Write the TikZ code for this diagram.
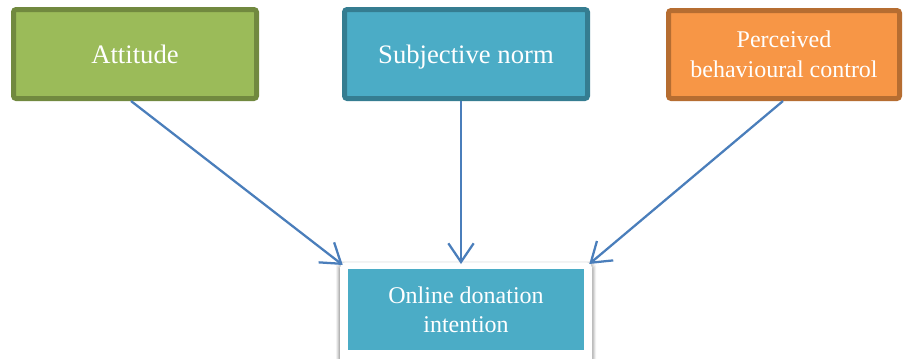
\documentclass[tikz,border=0pt]{standalone}
\usepackage{fontspec}
\setmainfont{Liberation Serif}
\usetikzlibrary{arrows.meta,calc}
\definecolor{attfill}{HTML}{9BBB59}
\definecolor{attline}{HTML}{71893F}
\definecolor{subfill}{HTML}{4BACC6}
\definecolor{subline}{HTML}{357D91}
\definecolor{pbcfill}{HTML}{F79646}
\definecolor{pbcline}{HTML}{B66D31}
\definecolor{arrowblue}{HTML}{4A7EBB}
\tikzset{
  topbox/.style={draw, line width=3.75pt, rounded corners=2pt, text=white, align=center, inner sep=0pt},
  link/.style={draw=arrowblue, line width=1.7pt, -{Straight Barb[length=14pt,width=19pt,line width=1.7pt]}}
}
\begin{document}
\begin{tikzpicture}[x=0.75pt,y=-0.75pt]
\useasboundingbox (0,0) rectangle (904,358);
\fill[white] (0,0) rectangle (904,358);
% bottom outer box with soft shadow
\begin{scope}
\clip (0,0) rectangle (904,358);
\foreach \s/\o in {4/0.05,3/0.07,2/0.09,1/0.11}{
  \fill[black,opacity=\o,rounded corners=4pt] (340-\s,262-\s+3) rectangle (592+\s,380);
}
\node[fill=white, rounded corners=4pt, minimum width=252*0.75pt, minimum height=118*0.75pt, inner sep=0pt, anchor=north] (out) at (466,262) {};
\end{scope}
\node[fill=subfill, minimum width=236*0.75pt, minimum height=81*0.75pt, inner sep=0pt, text=white, align=center, font=\fontsize{18pt}{22pt}\selectfont] (odi) at (466,309.5) {Online donation\\intention};
% top boxes
\node[topbox, draw=attline, fill=attfill, minimum width=243*0.75pt, minimum height=89*0.75pt, font=\fontsize{20pt}{24pt}\selectfont] (att) at (135,54) {Attitude};
\node[topbox, draw=subline, fill=subfill, minimum width=243*0.75pt, minimum height=89*0.75pt, text depth=0pt, font=\fontsize{20pt}{24pt}\selectfont] (sub) at (466,54) {Subjective norm};
\node[topbox, draw=pbcline, fill=pbcfill, minimum width=231*0.75pt, minimum height=88*0.75pt, font=\fontsize{18pt}{22.5pt}\selectfont] (pbc) at (784,54.5) {Perceived\\behavioural control};
% arrows
\draw[link] ([xshift=-4*0.75pt]att.south) -- ([xshift=3*0.75pt,yshift=-3*0.75pt]out.north west);
\draw[link] ([xshift=-5*0.75pt]sub.south) -- ([xshift=-5*0.75pt,yshift=-2*0.75pt]out.north);
\draw[link] ([xshift=-1*0.75pt]pbc.south) -- ([xshift=-3*0.75pt,yshift=-2*0.75pt]out.north east);
\end{tikzpicture}
\end{document}
